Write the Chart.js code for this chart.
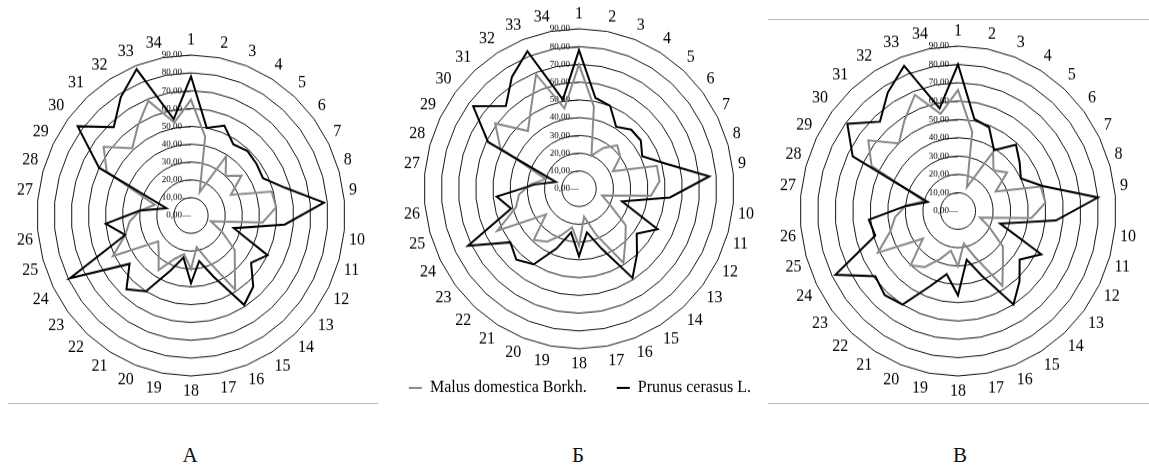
<!DOCTYPE html>
<html><head><meta charset="utf-8">
<script src="https://cdn.jsdelivr.net/npm/chart.js@4.4.1/dist/chart.umd.min.js"></script>
<style>
html,body{margin:0;padding:0;background:#fff;width:1149px;height:475px;overflow:hidden;position:relative;font-family:'Liberation Serif',serif}
canvas{position:absolute;transform-origin:0 0}
.rule{position:absolute;height:0;border-top:1.5px solid #b9b9b9}
.cap{position:absolute;top:442px;font-size:21px;color:#111;transform:translateX(-50%);line-height:26px}
</style></head><body>
<div class="rule" style="left:8px;width:370px;top:403px"></div>
<div class="rule" style="left:768px;width:381px;top:19px"></div>
<div class="rule" style="left:768px;width:381px;top:403px"></div>
<canvas id="cA" width="357" height="357" style="left:13px;top:30px;transform:scaleY(1.042)"></canvas>
<canvas id="cB" width="358" height="390" style="left:401px;top:4px;transform:scaleY(1.032)"></canvas>
<canvas id="cC" width="364" height="364" style="left:777px;top:21px;transform:scaleY(1.044)"></canvas>
<div class="cap" style="left:190px">А</div>
<div class="cap" style="left:578px">Б</div>
<div class="cap" style="left:960px">В</div>
<script>
const categories = Array.from({length:34}, (_, i) => String(i + 1));
const tickValues = [0,10,20,30,40,50,60,70,80,90];
const tickLabels = ['0,00','10,00','20,00','30,00','40,00','50,00','60,00','70,00','80,00','90,00'];
const seriesNames = ['Malus domestica Borkh.', 'Prunus cerasus L.'];

const malusA  = [65,45,14,39,30,37,26,49,50,42,12,20,32,38,49,27,18,30,22,26,36,28,24,51,40,36,30,22,55,64,51,59,69,53];
const prunusA = [78,50,54,47,49,48,47,57,78,55,26,50,44,54,59,37,26,38,24,33,50,56,45,79,40,50,30,15,60,83,67,78,88,55];

const malusB  = [70,47,20,27,33,30,22,47,47,42,14,20,34,40,49,28,16,32,22,28,35,39,24,53,38,35,28,20,51,61,44,53,69,46];
const prunusB = [78,52,50,41,45,45,41,52,76,53,26,51,42,50,59,36,25,38,25,36,50,54,50,72,41,48,26,14,59,77,63,74,83,51];

const malusC  = [66,44,14,38,30,35,24,49,50,42,13,20,32,38,48,27,18,30,22,28,36,40,25,51,40,36,30,20,55,64,50,58,68,54];
const prunusC = [80,51,49,39,49,44,40,50,80,56,25,53,44,52,60,38,27,46,35,44,60,62,59,78,49,51,30,18,67,79,66,76,85,57];

function padTick(t){
  let u = 0;
  for (const ch of t){ u += (ch === ',') ? 1 : (ch === '\u2014' ? 4 : 2); }
  return t + ' '.repeat(u);
}

function makeChart(id, malus, prunus, withLegend){
  new Chart(document.getElementById(id), {
    type: 'radar',
    data: {
      labels: categories,
      datasets: [
        {label: seriesNames[0], data: malus, borderColor: '#8a8a8a', backgroundColor: '#8a8a8a', borderWidth: 2, order: 1, pointStyle: 'line'},
        {label: seriesNames[1], data: prunus, borderColor: '#000', backgroundColor: '#000', borderWidth: 2, order: 0, pointStyle: 'line'}
      ]
    },
    options: {
      responsive: false, animation: false, devicePixelRatio: 1,
      layout: {padding: 0},
      elements: {line: {tension: 0, fill: false}, point: {radius: 0, hoverRadius: 0}},
      plugins: {
        tooltip: {enabled: false},
        legend: {
          display: withLegend, position: 'bottom',
          labels: {
            usePointStyle: true, pointStyleWidth: 13, padding: 6, color: '#000',
            font: {family: "'Liberation Serif', serif", size: 16},
            sort: (a, b) => a.datasetIndex - b.datasetIndex,
            generateLabels: (chart) => {
              const items = Chart.defaults.plugins.legend.labels.generateLabels(chart);
              items.forEach(it => { if (it.datasetIndex === 0) it.text = it.text + '      '; });
              return items;
            }
          }
        }
      },
      scales: {
        r: {
          min: -0.0001, max: 90, startAngle: 0,
          angleLines: {display: false},
          grid: {color: (c) => (c.tick && c.tick.value === 0) ? 'rgba(0,0,0,0)' : '#151515', lineWidth: 1},
          pointLabels: {display: true, padding: 0.3, color: '#000', font: {family: "'Liberation Serif', serif", size: 16}},
          ticks: {
            display: true, showLabelBackdrop: false, backdropPadding: 0, color: '#000',
            font: {family: "'Liberation Serif', serif", size: 9},
            callback: (v) => { const i = tickValues.indexOf(v); return i < 0 ? '' : padTick(tickLabels[i] + '\u2014'); }
          },
          afterBuildTicks: (s) => { s.ticks = tickValues.map(v => ({value: v})); }
        }
      }
    }
  });
}
makeChart('cA', malusA, prunusA, false);
makeChart('cB', malusB, prunusB, true);
makeChart('cC', malusC, prunusC, false);
</script>
</body></html>
